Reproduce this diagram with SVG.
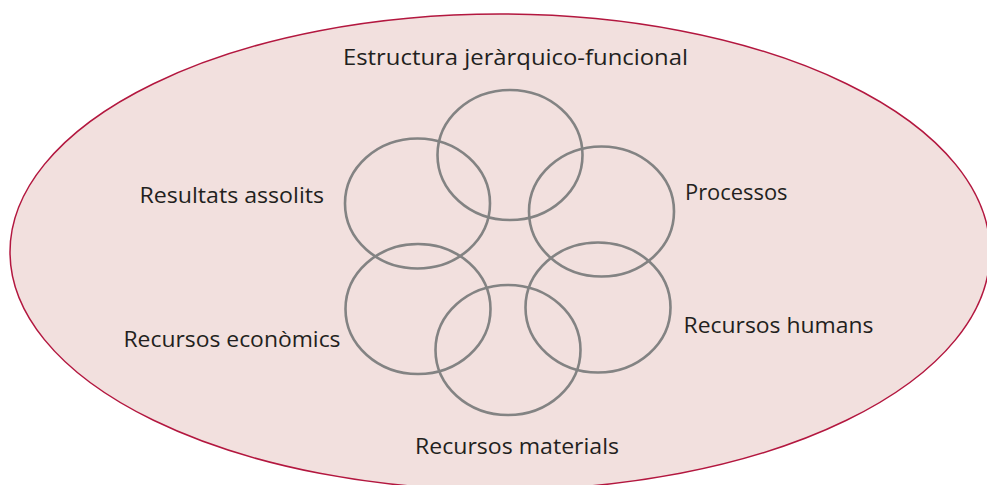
<svg xmlns="http://www.w3.org/2000/svg" width="987" height="485" viewBox="0 0 987 485">
  <style>
    .bg { fill: #f2e0de; stroke: #b3173f; stroke-width: 1.5; }
    .ring { fill: none; stroke: #838383; stroke-width: 2.6; }
    .lbl { font-family: "Open Sans", "Noto Sans", "Liberation Sans", sans-serif; font-size: 22px; fill: #231f20; }
  </style>
  <rect x="0" y="0" width="987" height="485" fill="#ffffff"/>
  <g id="outer">
    <ellipse class="bg" cx="500" cy="252" rx="490" ry="238"/>
  </g>
  <g id="title">
    <text class="lbl" x="343" y="65" textLength="345" lengthAdjust="spacingAndGlyphs">Estructura jeràrquico-funcional</text>
  </g>
  <g id="node-estructura">
    <ellipse class="ring" cx="510" cy="155" rx="72.5" ry="65"/>
  </g>
  <g id="node-resultats">
    <ellipse class="ring" cx="417.5" cy="203.5" rx="72.5" ry="65"/>
    <text class="lbl" x="139.5" y="203" textLength="184.5" lengthAdjust="spacingAndGlyphs">Resultats assolits</text>
  </g>
  <g id="node-processos">
    <ellipse class="ring" cx="601.5" cy="211.5" rx="72.5" ry="65"/>
    <text class="lbl" x="685" y="199.5" textLength="102.5" lengthAdjust="spacingAndGlyphs">Processos</text>
  </g>
  <g id="node-economics">
    <ellipse class="ring" cx="418" cy="309" rx="72.5" ry="65"/>
    <text class="lbl" x="123.5" y="347" textLength="217" lengthAdjust="spacingAndGlyphs">Recursos econòmics</text>
  </g>
  <g id="node-humans">
    <ellipse class="ring" cx="598" cy="307.5" rx="72.5" ry="65"/>
    <text class="lbl" x="683.5" y="333" textLength="190" lengthAdjust="spacingAndGlyphs">Recursos humans</text>
  </g>
  <g id="node-materials">
    <ellipse class="ring" cx="508" cy="350" rx="72.5" ry="65"/>
    <text class="lbl" x="415" y="453.5" textLength="204" lengthAdjust="spacingAndGlyphs">Recursos materials</text>
  </g>
  <g id="connectors"></g>
</svg>
